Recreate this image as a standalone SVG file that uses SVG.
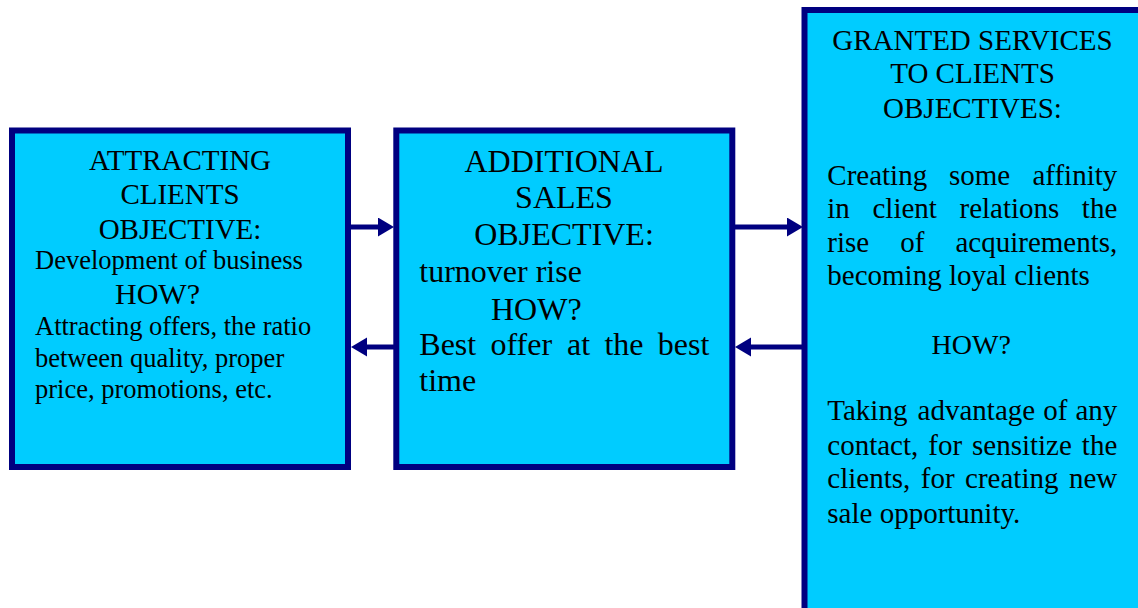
<svg xmlns="http://www.w3.org/2000/svg" width="1138" height="608" viewBox="0 0 1138 608">
  <style>
    .box { fill: #00CCFF; stroke: #000080; stroke-width: 6; }
    .conn { stroke: #000080; stroke-width: 5; fill: none; }
    text { font-family: "Liberation Serif", "Times New Roman", serif; fill: #000000; }
    .h1 { font-size: 29px; text-anchor: middle; }
    .b1 { font-size: 26.5px; }
    .t2 { font-size: 32px; }
    .h2 { font-size: 32px; text-anchor: middle; }
    .t3 { font-size: 29px; }
    .h3 { font-size: 29px; text-anchor: middle; }
    .end { text-anchor: end; }
  </style>
  <defs>
    <marker id="arrow" markerUnits="userSpaceOnUse" markerWidth="17" markerHeight="20" refX="1" refY="9.5" orient="auto">
      <path d="M0,0 L16,9.5 L0,19 Z" fill="#000080"/>
    </marker>
  </defs>
  <rect width="1138" height="608" fill="#FFFFFF"/>

  <g id="connectors">
    <path class="conn" d="M351,227 L379,227" marker-end="url(#arrow)"/>
    <path class="conn" d="M394,347 L366,347" marker-end="url(#arrow)"/>
    <path class="conn" d="M735,227 L788,227" marker-end="url(#arrow)"/>
    <path class="conn" d="M802,347 L750,347" marker-end="url(#arrow)"/>
  </g>

  <g id="node-attracting-clients">
    <rect class="box" x="12" y="130.5" width="336" height="336.5"/>
    <text class="h1" x="180" y="170">ATTRACTING</text>
    <text class="h1" x="180" y="203.5">CLIENTS</text>
    <text class="h1" x="180" y="238.5">OBJECTIVE:</text>
    <text class="b1" x="35" y="268.5">Development of business</text>
    <text x="115" y="303.5" style="font-size:30px">HOW?</text>
    <text class="b1" x="35" y="335">Attracting offers, the ratio</text>
    <text class="b1" x="35" y="366.7">between quality, proper</text>
    <text class="b1" x="35" y="398.3">price, promotions, etc.</text>
  </g>

  <g id="node-additional-sales">
    <rect class="box" x="396.3" y="130.5" width="336" height="336.5"/>
    <text class="h2" x="564" y="171.7">ADDITIONAL</text>
    <text class="h2" x="564" y="208.3">SALES</text>
    <text class="h2" x="564" y="245">OBJECTIVE:</text>
    <text class="t2" x="419.3" y="281.7">turnover rise</text>
    <text class="t2" x="491" y="320">HOW?</text>
    <text class="t2" x="419.3" y="355">Best</text>
    <text class="t2" x="490.5" y="355">offer</text>
    <text class="t2" x="567" y="355">at</text>
    <text class="t2" x="604.4" y="355">the</text>
    <text class="t2 end" x="709.3" y="355">best</text>
    <text class="t2" x="419.3" y="391">time</text>
  </g>

  <g id="node-granted-services">
    <rect class="box" x="804.5" y="10" width="340" height="610"/>
    <text class="h3" x="972.5" y="50">GRANTED SERVICES</text>
    <text class="h3" x="972.5" y="83.3">TO CLIENTS</text>
    <text class="h3" x="972.5" y="118.3">OBJECTIVES:</text>

    <text class="t3" x="827.3" y="185">Creating</text>
    <text class="t3" x="948.9" y="185">some</text>
    <text class="t3 end" x="1117.3" y="185">affinity</text>

    <text class="t3" x="827.3" y="218.3">in</text>
    <text class="t3" x="872.5" y="218.3">client</text>
    <text class="t3" x="959.5" y="218.3">relations</text>
    <text class="t3 end" x="1117.3" y="218.3">the</text>

    <text class="t3" x="827.3" y="251.7">rise</text>
    <text class="t3" x="900.2" y="251.7">of</text>
    <text class="t3 end" x="1117.3" y="251.7">acquirements,</text>

    <text class="t3" x="827.3" y="285">becoming loyal clients</text>

    <text class="h3" x="971.2" y="354" style="font-size:28px">HOW?</text>

    <text class="t3" x="827.3" y="420">Taking</text>
    <text class="t3" x="917.6" y="420">advantage</text>
    <text class="t3" x="1043.2" y="420">of</text>
    <text class="t3 end" x="1117.3" y="420">any</text>

    <text class="t3" x="827.3" y="455">contact,</text>
    <text class="t3" x="928.3" y="455">for</text>
    <text class="t3" x="972" y="455">sensitize</text>
    <text class="t3 end" x="1117.3" y="455">the</text>

    <text class="t3" x="827.3" y="488.3">clients,</text>
    <text class="t3" x="920.8" y="488.3">for</text>
    <text class="t3" x="965.1" y="488.3">creating</text>
    <text class="t3 end" x="1117.3" y="488.3">new</text>

    <text class="t3" x="827.3" y="522.7">sale opportunity.</text>
  </g>
</svg>
